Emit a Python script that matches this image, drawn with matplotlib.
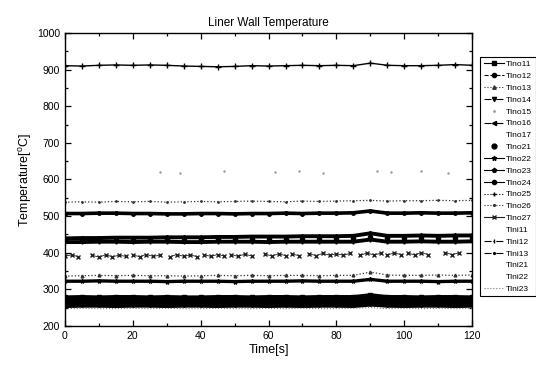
import numpy as np
import matplotlib
matplotlib.use('Agg')
import matplotlib.pyplot as plt
from matplotlib.lines import Line2D
from matplotlib.ticker import MultipleLocator

plt.rcParams['font.family'] = ['Liberation Sans', 'DejaVu Sans']
plt.rcParams['mathtext.fontset'] = 'custom'
plt.rcParams['mathtext.rm'] = 'Liberation Sans'

nan = np.nan

# time grid [s]
time = [0, 5, 10, 15, 20, 25, 30, 35, 40, 45, 50, 55, 60,
        65, 70, 75, 80, 85, 90, 95, 100, 105, 110, 115, 120]

# temperatures [C]
tlno11 = [278, 279, 278, 279, 279, 278, 279, 278, 278, 279, 279, 278, 279,
          279, 278, 279, 279, 279, 284, 279, 279, 278, 279, 279, 278]
tlno12 = [272, 273, 272, 272, 273, 272, 272, 273, 272, 272, 273, 272, 273,
          272, 272, 273, 272, 273, 277, 272, 273, 272, 272, 273, 272]
tlno13 = [336, 337, 338, 337, 338, 337, 337, 336, 337, 338, 337, 338, 337,
          338, 338, 337, 338, 338, 347, 339, 338, 338, 339, 338, 339]
tlno14 = [429, 429, 430, 430, 429, 430, 430, 429, 429, 430, 430, 430, 429,
          430, 430, 430, 430, 430, 436, 430, 430, 431, 430, 430, 431]
tlno16 = [266, 266, 267, 266, 266, 267, 266, 266, 267, 266, 266, 267, 266,
          266, 267, 266, 267, 266, 270, 266, 267, 266, 266, 267, 266]
tlno17 = [269, 269, 270, 269, 269, 270, 269, 269, 270, 269, 269, 270, 269,
          269, 270, 269, 270, 269, 272, 269, 270, 269, 269, 270, 269]
tlno21 = [434, 435, 435, 436, 436, 436, 437, 436, 437, 437, 437, 438, 438,
          438, 438, 438, 439, 439, 444, 439, 439, 439, 440, 439, 440]
tlno22 = [322, 322, 323, 322, 322, 322, 321, 322, 322, 322, 321, 322, 322,
          322, 323, 322, 322, 322, 327, 322, 322, 322, 321, 322, 322]
tlno23 = [439, 440, 440, 441, 441, 441, 442, 442, 442, 443, 443, 444, 444,
          444, 445, 445, 445, 446, 453, 446, 446, 447, 446, 447, 447]
tlno24 = [507, 507, 508, 508, 507, 507, 506, 506, 507, 507, 506, 507, 507,
          508, 507, 508, 508, 509, 514, 508, 508, 509, 508, 508, 509]
tlno25 = [911, 910, 912, 913, 912, 913, 912, 910, 909, 908, 909, 911, 910,
          911, 912, 911, 912, 911, 918, 912, 911, 911, 912, 914, 912]
tlno26 = [538, 539, 538, 540, 539, 540, 538, 539, 540, 539, 540, 541, 540,
          539, 541, 540, 541, 542, 543, 541, 542, 542, 543, 542, 543]
tlni11 = [263, 263, 264, 263, 263, 264, 263, 263, 264, 263, 263, 264, 263,
          263, 264, 263, 264, 263, 266, 263, 264, 263, 263, 264, 263]
tlni12 = [260, 261, 260, 260, 261, 260, 260, 261, 260, 260, 261, 260, 260,
          261, 260, 261, 260, 261, 264, 260, 260, 261, 260, 261, 260]
tlni13 = [254, 255, 255, 254, 255, 255, 254, 255, 255, 254, 255, 255, 254,
          255, 254, 255, 255, 254, 258, 255, 254, 255, 255, 254, 255]
tlni21 = [258, 258, 259, 258, 258, 259, 258, 258, 259, 258, 258, 259, 258,
          258, 259, 258, 259, 258, 261, 258, 259, 258, 258, 259, 258]
tlni22 = [275, 275, 276, 275, 275, 276, 275, 275, 276, 275, 275, 276, 275,
          275, 276, 275, 276, 275, 279, 275, 276, 275, 275, 276, 275]
tlni23 = [247, 248, 247, 247, 248, 247, 248, 247, 247, 248, 247, 247, 248,
          247, 248, 247, 247, 248, 250, 247, 248, 247, 248, 247, 248]

# sparse thermocouple readings
time15 = [28, 34, 47, 62, 69, 76, 92, 96, 105, 113]
tlno15 = [621, 619, 622, 620, 623, 618, 624, 620, 622, 619]

# Tlno27 has dropouts (gaps)
time27 = [0, 2, 4, 6, 8, 10, 12, 14, 16, 18, 19, 20, 22, 24, 26, 28, 29,
          31, 33, 35, 37, 39, 40, 41, 43, 45, 47, 48, 49, 51, 53, 55, 57,
          59, 61, 63, 65, 66, 67, 69, 70, 72, 74, 76, 78, 80, 82, 84, 86,
          87, 89, 91, 93, 94, 95, 97, 99, 100, 101, 103, 105, 107, 110,
          112, 114, 116]
tlno27 = [390, 394, 389, nan, 393, 388, 394, 389, 393, 390, nan, 394, 389,
          395, 390, 393, nan, 389, 395, 390, 394, 389, nan, 394, 390, 395,
          391, nan, 395, 390, 396, 391, nan, 396, 391, 397, 392, nan, 396,
          392, nan, 397, 392, 398, 393, 397, 393, 398, nan, 393, 399, 394,
          398, nan, 394, 399, 395, nan, 399, 394, 400, 395, nan, 400, 395,
          399]

# name, x, y, legend line style, marker, marker size, plotted width, colour
series = [
    ('Tlno11', time, tlno11, '-', 's', 2.5, 2.8, 'black'),
    ('Tlno12', time, tlno12, '--', 'o', 2.5, 2.8, 'black'),
    ('Tlno13', time, tlno13, ':', '^', 2, 0.9, '#333333'),
    ('Tlno14', time, tlno14, '-.', 'v', 2.5, 2.8, 'black'),
    ('Tlno15', time15, tlno15, 'none', '.', 1.5, 0, '#999999'),
    ('Tlno16', time, tlno16, '-.', '<', 2.5, 2.8, 'black'),
    ('Tlno17', time, tlno17, '-', 'none', 0, 0.5, 'white'),
    ('Tlno21', time, tlno21, 'none', 'o', 3, 0, 'black'),
    ('Tlno22', time, tlno22, '-', '*', 3, 2.4, 'black'),
    ('Tlno23', time, tlno23, '-', 'p', 2.5, 2.8, 'black'),
    ('Tlno24', time, tlno24, '-', 'o', 2.5, 2.6, 'black'),
    ('Tlno25', time, tlno25, ':', '+', 4, 1.0, 'black'),
    ('Tlno26', time, tlno26, ':', '.', 2, 0.9, '#333333'),
    ('Tlno27', time27, tlno27, '-', 'x', 2.5, 0.6, '#222222'),
    ('Tlni11', time, tlni11, '-', 'none', 0, 0.5, 'white'),
    ('Tlni12', time, tlni12, '-.', '|', 3, 2.8, 'black'),
    ('Tlni13', time, tlni13, '-.', '.', 2, 2.8, 'black'),
    ('Tlni21', time, tlni21, '-', 'none', 0, 0.5, 'white'),
    ('Tlni22', time, tlni22, '-', 'none', 0, 0.5, 'white'),
    ('Tlni23', time, tlni23, ':', 'none', 0, 0.8, '#777777'),
]

fig = plt.figure(figsize=(5.36, 3.72), dpi=100)
ax = fig.add_axes([0.121, 0.124, 0.760, 0.787])

handles = []
for name, x, y, ls, mk, ms, lw, col in series:
    # densely sampled records look like continuous traces on the chart
    plot_ls = 'none' if ls == 'none' else ('-' if lw >= 1 else ls)
    z = 1 if col == 'white' else 2
    ax.plot(x, y, ls=plot_ls, lw=lw, marker=mk, ms=ms, color=col, zorder=z)
    handles.append(Line2D([], [], ls=ls, lw=0.8, marker=mk, ms=min(ms + 0.5, 3.5),
                          color=col, label=name))

ax.set_xlim(0, 120)
ax.set_ylim(200, 1000)
ax.xaxis.set_major_locator(MultipleLocator(20))
ax.xaxis.set_minor_locator(MultipleLocator(10))
ax.yaxis.set_major_locator(MultipleLocator(100))
ax.yaxis.set_minor_locator(MultipleLocator(50))
ax.tick_params(which='both', direction='in', top=True, right=True,
               labelsize=7.5, width=0.9)
ax.tick_params(which='major', length=4)
ax.tick_params(which='minor', length=2)
for s in ax.spines.values():
    s.set_linewidth(1.0)

ax.set_title('Liner Wall Temperature', fontsize=8.5, pad=5)
ax.set_xlabel('Time[s]', fontsize=9, labelpad=2)
ax.set_ylabel(r'Temperature[$^\mathrm{o}$C]', fontsize=9, labelpad=2)

leg = ax.legend(handles=handles, loc='upper left', bbox_to_anchor=(1.02, 0.918),
                fontsize=6, labelspacing=0.48, handlelength=2.4,
                handletextpad=0.3, borderpad=0.4, borderaxespad=0,
                fancybox=False, edgecolor='black', framealpha=1)
leg.get_frame().set_linewidth(0.8)

fig.savefig('out.png', dpi=100)
